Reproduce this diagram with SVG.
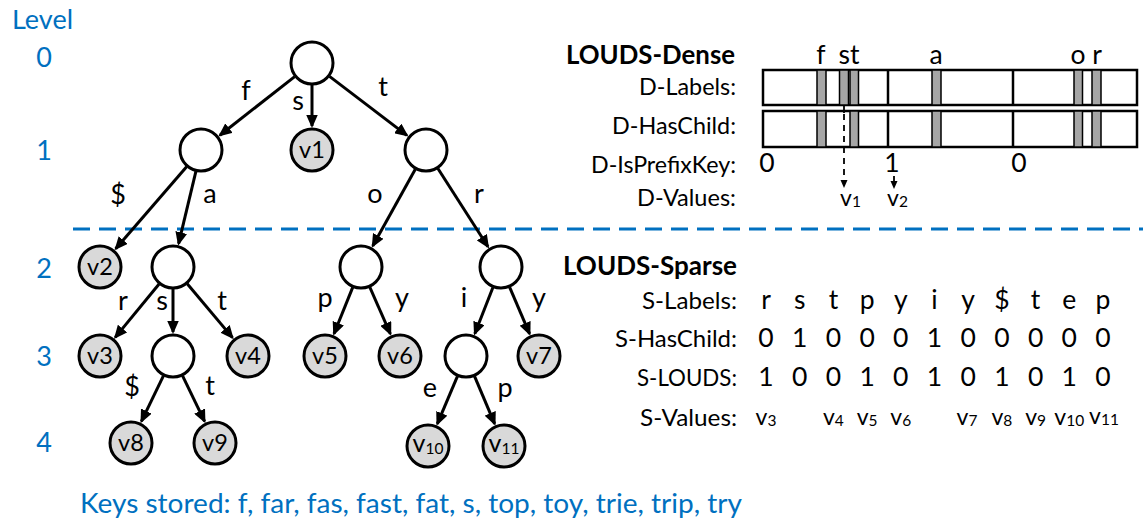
<svg xmlns="http://www.w3.org/2000/svg" width="1143" height="520" viewBox="0 0 1143 520">
  <defs>
    <style>
      text { font-family: Lato, "Open Sans", "Liberation Sans", sans-serif; fill: #000; }
      .blue { fill: #0070C0; }
      .lvl { font-size: 27px; text-anchor: middle; }
      .ttl { font-size: 27px; font-weight: bold; }
      .row { font-size: 24px; }
      .cell { font-size: 26.5px; text-anchor: middle; }
      .elbl { font-size: 27px; text-anchor: middle; }
      .val { font-size: 23px; text-anchor: middle; }
      .node circle { stroke: #000; stroke-width: 3; fill: #fff; }
      .node.leaf circle { fill: #D9D9D9; }
      .node text { font-size: 23.5px; text-anchor: middle; }
      .edge { stroke: #000; stroke-width: 3; fill: none; marker-end: url(#arrow); }
      .box { fill: #fff; stroke: #000; stroke-width: 2.5; }
      .bar { fill: #A6A6A6; stroke: #000; stroke-width: 1.5; }
      .sep { stroke: #000; stroke-width: 2.5; }
    </style>
    <marker id="arrow" markerUnits="userSpaceOnUse" markerWidth="14" markerHeight="12" refX="11.5" refY="6" orient="auto">
      <path d="M0,0 L13.5,6 L0,12 z" fill="#000"/>
    </marker>
  </defs>

  <!-- level column -->
  <g id="levels" class="blue">
    <text class="blue" x="12" y="29" font-size="26.5" textLength="61" lengthAdjust="spacingAndGlyphs">Level</text>
    <text class="blue lvl" x="44" y="67">0</text>
    <text class="blue lvl" x="44" y="160">1</text>
    <text class="blue lvl" x="44" y="278">2</text>
    <text class="blue lvl" x="44" y="366">3</text>
    <text class="blue lvl" x="44" y="452">4</text>
  </g>

  <!-- dense / sparse boundary -->
  <line id="cut" x1="73" y1="229" x2="1143" y2="229" stroke="#0070C0" stroke-width="3" stroke-dasharray="17 9"/>

  <!-- trie edges -->
  <g id="edges">
    <line class="edge" x1="294.7" y1="76.6" x2="219.9" y2="135.2"/>
    <line class="edge" x1="312" y1="85" x2="312" y2="126"/>
    <line class="edge" x1="329.5" y1="76.4" x2="406.9" y2="135.4"/>
    <line class="edge" x1="186.6" y1="166.7" x2="115.7" y2="248.8"/>
    <line class="edge" x1="195.9" y1="171.4" x2="178.6" y2="243.7"/>
    <line class="edge" x1="415.3" y1="169.2" x2="372.7" y2="246"/>
    <line class="edge" x1="437.9" y1="168.5" x2="488" y2="246.8"/>
    <line class="edge" x1="159.1" y1="284" x2="115.2" y2="337.4"/>
    <line class="edge" x1="173" y1="289" x2="173" y2="332"/>
    <line class="edge" x1="187.2" y1="283.8" x2="232.5" y2="337.6"/>
    <line class="edge" x1="352.7" y1="287.4" x2="334" y2="333.8"/>
    <line class="edge" x1="369.8" y1="287.2" x2="390.4" y2="334"/>
    <line class="edge" x1="492.9" y1="287.5" x2="474.8" y2="333.7"/>
    <line class="edge" x1="509.6" y1="287.2" x2="529.6" y2="333.9"/>
    <line class="edge" x1="163.4" y1="375.8" x2="141.4" y2="421.4"/>
    <line class="edge" x1="182.6" y1="375.8" x2="204.6" y2="421.4"/>
    <line class="edge" x1="457.4" y1="376.3" x2="437.3" y2="423.9"/>
    <line class="edge" x1="474.6" y1="376.3" x2="494.7" y2="423.9"/>
  </g>

  <!-- edge labels -->
  <g id="edge-labels">
    <text class="elbl" x="246" y="100">f</text>
    <text class="elbl" x="298" y="110">s</text>
    <text class="elbl" x="383" y="96">t</text>
    <text class="elbl" x="118" y="204">$</text>
    <text class="elbl" x="210" y="203">a</text>
    <text class="elbl" x="375" y="203">o</text>
    <text class="elbl" x="479" y="203">r</text>
    <text class="elbl" x="123" y="310">r</text>
    <text class="elbl" x="162" y="310">s</text>
    <text class="elbl" x="222" y="310">t</text>
    <text class="elbl" x="325" y="307">p</text>
    <text class="elbl" x="402" y="307">y</text>
    <text class="elbl" x="464" y="307">i</text>
    <text class="elbl" x="539" y="307">y</text>
    <text class="elbl" x="132" y="396">$</text>
    <text class="elbl" x="210" y="395">t</text>
    <text class="elbl" x="430" y="397">e</text>
    <text class="elbl" x="505" y="397">p</text>
  </g>

  <!-- trie nodes -->
  <g id="n-root" class="node"><circle cx="312" cy="63" r="21"/></g>
  <g id="n-f" class="node"><circle cx="201" cy="150" r="21"/></g>
  <g id="n-v1" class="node leaf"><circle cx="312" cy="150" r="21"/><text x="312" y="158">v1</text></g>
  <g id="n-t" class="node"><circle cx="426" cy="150" r="21"/></g>
  <g id="n-v2" class="node leaf"><circle cx="100" cy="267" r="21"/><text x="100" y="275">v2</text></g>
  <g id="n-fa" class="node"><circle cx="173" cy="267" r="21"/></g>
  <g id="n-to" class="node"><circle cx="361" cy="267" r="21"/></g>
  <g id="n-tr" class="node"><circle cx="501" cy="267" r="21"/></g>
  <g id="n-v3" class="node leaf"><circle cx="100" cy="356" r="21"/><text x="100" y="364">v3</text></g>
  <g id="n-fas" class="node"><circle cx="173" cy="356" r="21"/></g>
  <g id="n-v4" class="node leaf"><circle cx="248" cy="356" r="21"/><text x="248" y="364">v4</text></g>
  <g id="n-v5" class="node leaf"><circle cx="325" cy="356" r="21"/><text x="325" y="364">v5</text></g>
  <g id="n-v6" class="node leaf"><circle cx="400" cy="356" r="21"/><text x="400" y="364">v6</text></g>
  <g id="n-tri" class="node"><circle cx="466" cy="356" r="21"/></g>
  <g id="n-v7" class="node leaf"><circle cx="539" cy="356" r="21"/><text x="539" y="364">v7</text></g>
  <g id="n-v8" class="node leaf"><circle cx="131" cy="443" r="21"/><text x="131" y="451">v8</text></g>
  <g id="n-v9" class="node leaf"><circle cx="215" cy="443" r="21"/><text x="215" y="451">v9</text></g>
  <g id="n-v10" class="node leaf"><circle cx="428" cy="446" r="21"/><text x="428" y="452"><tspan font-size="25">v</tspan><tspan font-size="15.5" dy="2">10</tspan></text></g>
  <g id="n-v11" class="node leaf"><circle cx="504" cy="446" r="21"/><text x="504" y="452"><tspan font-size="25">v</tspan><tspan font-size="15.5" dy="2">11</tspan></text></g>

  <!-- LOUDS-Dense -->
  <g id="dense">
    <text class="ttl" x="566" y="64" textLength="169" lengthAdjust="spacingAndGlyphs">LOUDS-Dense</text>
    <text class="row" x="639" y="95" textLength="97" lengthAdjust="spacingAndGlyphs">D-Labels:</text>
    <text class="row" x="612" y="134" textLength="124" lengthAdjust="spacingAndGlyphs">D-HasChild:</text>
    <text class="row" x="591" y="173" textLength="145" lengthAdjust="spacingAndGlyphs">D-IsPrefixKey:</text>
    <text class="row" x="637" y="206" textLength="99" lengthAdjust="spacingAndGlyphs">D-Values:</text>

    <text class="cell" x="821" y="64">f</text>
    <text class="cell" x="849" y="64">st</text>
    <text class="cell" x="936" y="64">a</text>
    <text class="cell" x="1078" y="64">o</text>
    <text class="cell" x="1097" y="64">r</text>

    <!-- D-Labels bitmap -->
    <rect class="box" x="763" y="70" width="374" height="35"/>
    <line class="sep" x1="888" y1="70" x2="888" y2="105"/>
    <line class="sep" x1="1013" y1="70" x2="1013" y2="105"/>
    <rect class="bar" x="817" y="70" width="9" height="35"/>
    <rect class="bar" x="839.5" y="70" width="9" height="35"/>
    <rect class="bar" x="850" y="70" width="8.5" height="35"/>
    <rect class="bar" x="932" y="70" width="9" height="35"/>
    <rect class="bar" x="1074" y="70" width="8.5" height="35"/>
    <rect class="bar" x="1092" y="70" width="9" height="35"/>

    <!-- D-HasChild bitmap -->
    <rect class="box" x="763" y="111" width="374" height="36"/>
    <line class="sep" x1="888" y1="111" x2="888" y2="147"/>
    <line class="sep" x1="1013" y1="111" x2="1013" y2="147"/>
    <rect class="bar" x="817" y="111" width="9" height="36"/>
    <rect class="bar" x="850" y="111" width="8.5" height="36"/>
    <rect class="bar" x="932" y="111" width="9" height="36"/>
    <rect class="bar" x="1074" y="111" width="8.5" height="36"/>
    <rect class="bar" x="1092" y="111" width="9" height="36"/>

    <!-- D-IsPrefixKey -->
    <text class="cell" x="767" y="172">0</text>
    <text class="cell" x="892" y="172">1</text>
    <text class="cell" x="1019" y="172">0</text>

    <!-- value pointers -->
    <line x1="844" y1="105" x2="844" y2="113" stroke="#000" stroke-width="1.8"/>
    <line x1="844" y1="114" x2="844" y2="181" stroke="#000" stroke-width="1.8" stroke-dasharray="6 5"/>
    <polygon points="840.5,180 847.5,180 844,188"/>
    <line x1="894" y1="176" x2="894" y2="182" stroke="#000" stroke-width="1.8"/>
    <polygon points="890.5,181 897.5,181 894,189"/>
    <text x="840" y="206" font-size="23">v<tspan font-size="15.5" dy="1">1</tspan></text>
    <text x="887" y="206" font-size="23">v<tspan font-size="15.5" dy="1">2</tspan></text>
  </g>

  <!-- LOUDS-Sparse -->
  <g id="sparse">
    <text class="ttl" x="563" y="275" textLength="174" lengthAdjust="spacingAndGlyphs">LOUDS-Sparse</text>
    <text class="row" x="642" y="309" textLength="95" lengthAdjust="spacingAndGlyphs">S-Labels:</text>
    <text class="row" x="615" y="347" textLength="122" lengthAdjust="spacingAndGlyphs">S-HasChild:</text>
    <text class="row" x="637" y="386" textLength="100" lengthAdjust="spacingAndGlyphs">S-LOUDS:</text>
    <text class="row" x="640" y="426" textLength="97" lengthAdjust="spacingAndGlyphs">S-Values:</text>

    <g id="s-labels">
      <text class="cell" x="766" y="309">r</text>
      <text class="cell" x="799.7" y="309">s</text>
      <text class="cell" x="833.4" y="309">t</text>
      <text class="cell" x="867.1" y="309">p</text>
      <text class="cell" x="900.8" y="309">y</text>
      <text class="cell" x="934.5" y="309">i</text>
      <text class="cell" x="968.2" y="309">y</text>
      <text class="cell" x="1001.9" y="309">$</text>
      <text class="cell" x="1035.6" y="309">t</text>
      <text class="cell" x="1069.3" y="309">e</text>
      <text class="cell" x="1103" y="309">p</text>
    </g>
    <g id="s-haschild">
      <text class="cell" x="766" y="347">0</text>
      <text class="cell" x="799.7" y="347">1</text>
      <text class="cell" x="833.4" y="347">0</text>
      <text class="cell" x="867.1" y="347">0</text>
      <text class="cell" x="900.8" y="347">0</text>
      <text class="cell" x="934.5" y="347">1</text>
      <text class="cell" x="968.2" y="347">0</text>
      <text class="cell" x="1001.9" y="347">0</text>
      <text class="cell" x="1035.6" y="347">0</text>
      <text class="cell" x="1069.3" y="347">0</text>
      <text class="cell" x="1103" y="347">0</text>
    </g>
    <g id="s-louds">
      <text class="cell" x="766" y="386">1</text>
      <text class="cell" x="799.7" y="386">0</text>
      <text class="cell" x="833.4" y="386">0</text>
      <text class="cell" x="867.1" y="386">1</text>
      <text class="cell" x="900.8" y="386">0</text>
      <text class="cell" x="934.5" y="386">1</text>
      <text class="cell" x="968.2" y="386">0</text>
      <text class="cell" x="1001.9" y="386">1</text>
      <text class="cell" x="1035.6" y="386">0</text>
      <text class="cell" x="1069.3" y="386">1</text>
      <text class="cell" x="1103" y="386">0</text>
    </g>
    <g id="s-values">
      <text class="val" x="766" y="425">v<tspan font-size="15.5" dy="1">3</tspan></text>
      <text class="val" x="833.4" y="425">v<tspan font-size="15.5" dy="1">4</tspan></text>
      <text class="val" x="867.1" y="425">v<tspan font-size="15.5" dy="1">5</tspan></text>
      <text class="val" x="900.8" y="425">v<tspan font-size="15.5" dy="1">6</tspan></text>
      <text class="val" x="967" y="425">v<tspan font-size="15.5" dy="1">7</tspan></text>
      <text class="val" x="1001.9" y="425">v<tspan font-size="15.5" dy="1">8</tspan></text>
      <text class="val" x="1035.6" y="425">v<tspan font-size="15.5" dy="1">9</tspan></text>
      <text class="val" x="1069.3" y="425">v<tspan font-size="15.5" dy="1">10</tspan></text>
      <text class="val" x="1104" y="424">v<tspan font-size="15.5" dy="1">11</tspan></text>
    </g>
  </g>

  <text id="keys" class="blue" x="80" y="513" font-size="27" textLength="662" lengthAdjust="spacingAndGlyphs">Keys stored: f, far, fas, fast, fat, s, top, toy, trie, trip, try</text>
</svg>
